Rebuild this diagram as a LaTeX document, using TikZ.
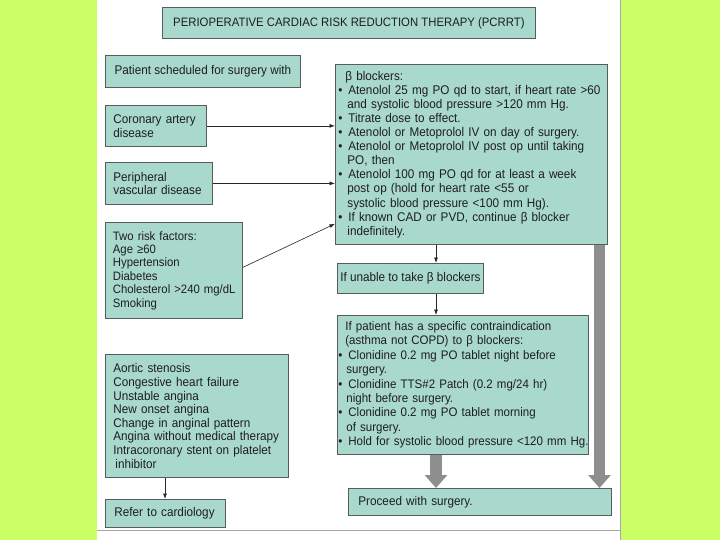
\documentclass[tikz,border=0pt]{standalone}
\usepackage{fontspec}
\setmainfont{Liberation Sans}[FakeStretch=0.93]
\usetikzlibrary{arrows.meta,calc}
\definecolor{lime}{HTML}{CCFF66}
\definecolor{boxfill}{HTML}{A9D9CC}
\definecolor{boxline}{HTML}{555E5B}
\definecolor{fatgrey}{HTML}{8E8E8E}
\definecolor{txt}{HTML}{1E1E1E}
\newcommand{\myb}{\makebox[10pt][l]{•}}
\newcommand{\myc}{\hspace*{9pt}}
\hbadness=10000 \hfuzz=50pt
\begin{document}
\begin{tikzpicture}[x=1pt,y=-1pt,
  box/.style={draw=boxline, fill=boxfill, line width=0.8pt, anchor=north west,
    inner xsep=8pt, inner ysep=0pt, align=left, text=txt,
    font=\fontsize{12.6}{14}\selectfont},
  thin/.style={draw=black!85, line width=0.6pt, -{Latex[length=5.5pt,width=4pt]}},
  fat/.style={draw=fatgrey, line width=11.5pt, -{Triangle[width=22pt,length=13pt]}}]
% background
\useasboundingbox (0,0) rectangle (720,540);
\fill[lime] (0,0) rectangle (720,540);
\fill[white] (97,0) rectangle (620,540);
\draw[gray!70, line width=1pt] (620,0) -- (620,540);
\draw[gray!70, line width=1pt] (97,530) -- (620,530);
\coordinate (lx) at (436,0);
\coordinate (rx) at (599.5,0);
\coordinate (ax) at (165,0);
% nodes
\node[box, align=center, minimum width=373pt, minimum height=31pt, inner xsep=0pt, font=\fontsize{12.2}{14}\selectfont] (title) at (162,7) {PERIOPERATIVE CARDIAC RISK REDUCTION THERAPY (PCRRT)};
\node[box, align=center, minimum width=195pt, minimum height=32pt, inner xsep=0pt] (patient) at (105,55) {Patient scheduled for surgery with};
\node[box, text width=85pt, minimum height=41pt] (cad) at (105,105) {Coronary artery\\disease};
\node[box, text width=91pt, minimum height=42pt, font=\fontsize{12.6}{13}\selectfont] (pvd) at (105,162) {Peripheral\\vascular disease};
\node[box, text width=122pt, minimum height=96pt, inner xsep=7.5pt, font=\fontsize{12.2}{13.4}\selectfont] (risk) at (105,222) {Two risk factors:\\Age ≥60\\Hypertension\\Diabetes\\\mbox{Cholesterol >240 mg/dL}\\Smoking};
\node[box, text width=266pt, minimum height=180pt, inner xsep=3pt, font=\fontsize{12.6}{14.1}\selectfont] (beta) at (335,64) {\hspace*{7pt}β blockers:\\
\myb Atenolol 25 mg PO qd to start, if heart rate >60\\
\myc and systolic blood pressure >120 mm Hg.\\
\myb Titrate dose to effect.\\
\myb Atenolol or Metoprolol IV on day of surgery.\\
\myb Atenolol or Metoprolol IV post op until taking\\
\myc PO, then\\
\myb Atenolol 100 mg PO qd for at least a week\\
\myc post op (hold for heart rate <55 or\\
\myc systolic blood pressure <100 mm Hg).\\
\myb If known CAD or PVD, continue β blocker\\
\myc indefinitely.};
\node[box, align=center, minimum width=146pt, minimum height=30pt, inner xsep=0pt] (unable) at (337,263) {If unable to take β blockers};
\node[box, text width=249pt, minimum height=139pt, inner xsep=1pt, font=\fontsize{12.4}{14.4}\selectfont] (contra) at (337,315) {\hspace*{7pt}If patient has a specific contraindication\\
\hspace*{7pt}(asthma not COPD) to β blockers:\\
\myb Clonidine 0.2 mg PO tablet night before\\
\hspace*{8pt}surgery.\\
\myb Clonidine TTS\#2 Patch (0.2 mg/24 hr)\\
\hspace*{8pt}night before surgery.\\
\myb Clonidine 0.2 mg PO tablet morning\\
\hspace*{8pt}of surgery.\\
\mbox{\myb Hold for systolic blood pressure <120 mm Hg.}};
\node[box, text width=167pt, minimum height=123pt, font=\fontsize{12.6}{13.6}\selectfont] (aortic) at (105,354) {Aortic stenosis\\Congestive heart failure\\Unstable angina\\New onset angina\\Change in anginal pattern\\Angina without medical therapy\\Intracoronary stent on platelet\\\hspace*{2pt}inhibitor};
\node[box, text width=102pt, minimum height=28pt, inner xsep=9pt] (refer) at (105,499) {Refer to cardiology};
\node[box, text width=243pt, minimum height=27pt, inner xsep=10pt] (proceed) at (348,488) {Proceed with surgery.};
% connectors
\draw[thin] (cad.east) -- (cad.east -| beta.west);
\draw[thin] (pvd.east) -- (pvd.east -| beta.west);
\draw[thin] ($(risk.east)+(0,-3)$) -- ($(beta.south west)+(0,-21)$);
\draw[thin] (beta.south -| lx) -- (unable.north -| lx);
\draw[thin] (unable.south -| lx) -- (contra.north -| lx);
\draw[thin] (aortic.south -| ax) -- (refer.north -| ax);
\draw[fat] ([yshift=-0.5pt]contra.south -| lx) -- (proceed.north -| lx);
\draw[fat] ([yshift=-0.5pt]beta.south -| rx) -- (proceed.north -| rx);
\end{tikzpicture}
\end{document}
